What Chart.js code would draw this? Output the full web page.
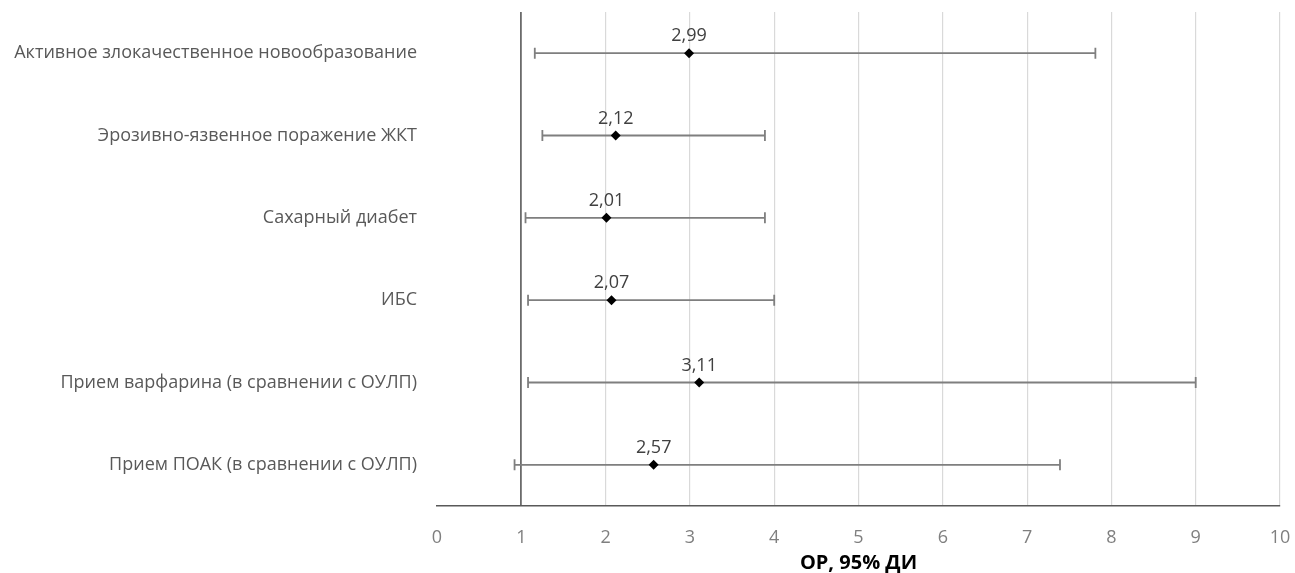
<!DOCTYPE html>
<html>
<head>
<meta charset="utf-8">
<script src="https://cdn.jsdelivr.net/npm/chart.js@4.4.1/dist/chart.umd.min.js"></script>
<style>
  html, body { margin: 0; padding: 0; background: #ffffff; }
  #wrap { width: 1295px; height: 573px; position: relative; }
</style>
</head>
<body>
<div id="wrap"><canvas id="c" width="1295" height="573"></canvas></div>
<script>
const categories = [
  'Активное злокачественное новообразование',
  'Эрозивно-язвенное поражение ЖКТ',
  'Сахарный диабет',
  'ИБС',
  'Прием варфарина (в сравнении с ОУЛП)',
  'Прием ПОАК (в сравнении с ОУЛП)'
];
const oddsRatio = [2.99, 2.12, 2.01, 2.07, 3.11, 2.57];
const ciLower   = [1.16, 1.25, 1.05, 1.08, 1.08, 0.92];
const ciUpper   = [7.81, 3.89, 3.89, 4.00, 9.00, 7.39];
const xTicks    = [0, 1, 2, 3, 4, 5, 6, 7, 8, 9, 10];
const xTitle    = 'ОР, 95% ДИ';

const FONT = '"Open Sans", "DejaVu Sans", sans-serif';

const errorBars = {
  id: 'errorBars',
  beforeDatasetsDraw(chart) {
    const ctx = chart.ctx;
    const xs = chart.scales.x, ys = chart.scales.y;
    ctx.save();
    ctx.strokeStyle = '#7f7f7f';
    ctx.lineWidth = 1.8;
    categories.forEach((c, i) => {
      const y = ys.getPixelForValue(i);
      const x1 = xs.getPixelForValue(ciLower[i]);
      const x2 = xs.getPixelForValue(ciUpper[i]);
      ctx.beginPath();
      ctx.moveTo(x1, y); ctx.lineTo(x2, y);
      ctx.moveTo(x1, y - 5.5); ctx.lineTo(x1, y + 5.5);
      ctx.moveTo(x2, y - 5.5); ctx.lineTo(x2, y + 5.5);
      ctx.stroke();
    });
    ctx.restore();
  },
  afterDatasetsDraw(chart) {
    const ctx = chart.ctx;
    const xs = chart.scales.x, ys = chart.scales.y;
    ctx.save();
    ctx.fillStyle = '#404040';
    ctx.font = '18px ' + FONT;
    ctx.textAlign = 'center';
    ctx.textBaseline = 'middle';
    categories.forEach((c, i) => {
      const y = ys.getPixelForValue(i);
      const x = xs.getPixelForValue(oddsRatio[i]);
      ctx.fillText(oddsRatio[i].toFixed(2).replace('.', ','), x, y - 17);
    });
    ctx.restore();
  }
};

new Chart(document.getElementById('c'), {
  type: 'scatter',
  data: {
    labels: categories,
    datasets: [{
      data: categories.map((c, i) => ({ x: oddsRatio[i], y: c })),
      pointStyle: 'rectRot',
      pointRadius: 5,
      pointHoverRadius: 5,
      backgroundColor: '#000000',
      borderColor: '#000000',
      borderWidth: 0
    }]
  },
  options: {
    responsive: false,
    animation: false,
    events: [],
    layout: { padding: { top: 12, right: 15, left: 0, bottom: 0 } },
    plugins: { legend: { display: false }, tooltip: { enabled: false } },
    scales: {
      x: {
        type: 'linear',
        min: 0, max: 10,
        afterBuildTicks(scale) { scale.ticks = xTicks.map(v => ({ value: v })); },
        afterFit(scale) { scale.height = 67; scale.paddingLeft = 0; scale.paddingRight = 0; },
        grid: {
          drawTicks: false,
          color: ctx => ctx.tick && ctx.tick.value === 0 ? 'rgba(0,0,0,0)' : (ctx.tick && ctx.tick.value === 1 ? '#6b6b6b' : '#d9d9d9'),
          lineWidth: ctx => ctx.tick && ctx.tick.value === 1 ? 1.8 : 1.2
        },
        border: { display: true, color: '#595959', width: 1.5 },
        ticks: {
          padding: 21,
          color: '#7f7f7f',
          font: { family: FONT, size: 18 },
          callback: v => String(v)
        },
        title: {
          display: true,
          text: xTitle,
          color: '#000000',
          font: { family: FONT, size: 20, weight: 'bold' },
          padding: { top: -2, bottom: -2 }
        }
      },
      y: {
        type: 'category',
        labels: categories,
        offset: true,
        afterFit(scale) { scale.width = 437; scale.paddingTop = 0; scale.paddingBottom = 0; },
        grid: { display: false, drawTicks: false },
        border: { display: false },
        ticks: {
          padding: 20,
          color: '#595959',
          font: { family: FONT, size: 18 }
        }
      }
    }
  },
  plugins: [errorBars]
});
</script>
</body>
</html>
